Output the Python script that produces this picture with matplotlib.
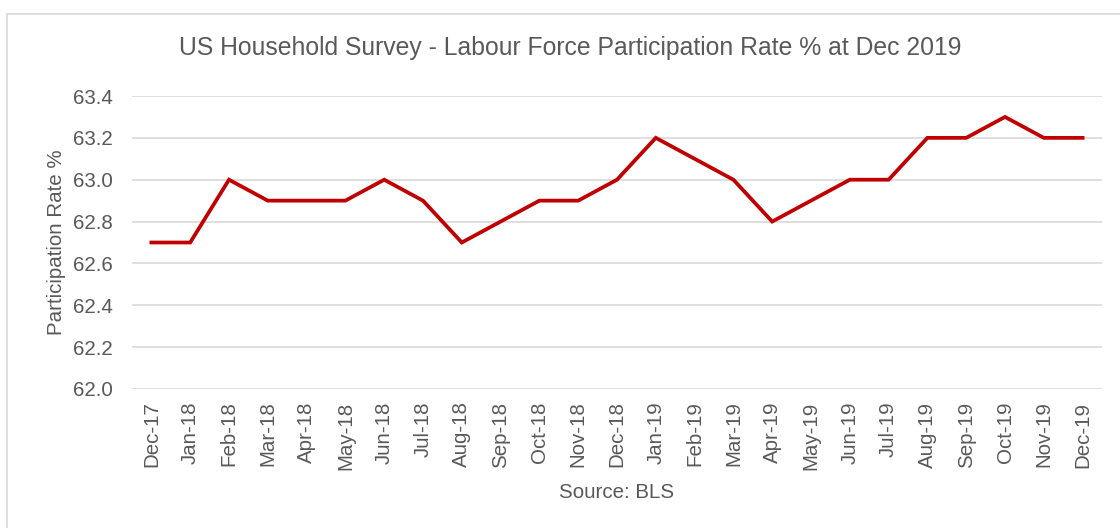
import matplotlib.pyplot as plt
from matplotlib.patches import Rectangle

months = ['Dec-17', 'Jan-18', 'Feb-18', 'Mar-18', 'Apr-18', 'May-18', 'Jun-18',
          'Jul-18', 'Aug-18', 'Sep-18', 'Oct-18', 'Nov-18', 'Dec-18', 'Jan-19',
          'Feb-19', 'Mar-19', 'Apr-19', 'May-19', 'Jun-19', 'Jul-19', 'Aug-19',
          'Sep-19', 'Oct-19', 'Nov-19', 'Dec-19']
participation = [62.7, 62.7, 63.0, 62.9, 62.9, 62.9, 63.0,
                 62.9, 62.7, 62.8, 62.9, 62.9, 63.0, 63.2,
                 63.1, 63.0, 62.8, 62.9, 63.0, 63.0, 63.2,
                 63.2, 63.3, 63.2, 63.2]
y_ticks = [62.0, 62.2, 62.4, 62.6, 62.8, 63.0, 63.2, 63.4]

plt.rcParams['font.family'] = ['Liberation Sans', 'DejaVu Sans']
text_color = '#595959'

fig = plt.figure(figsize=(11.2, 5.28), dpi=100)
# chart frame, running off the right and bottom edges
fig.patches.append(Rectangle((7 / 1120, -0.05), 1.2, 1 - 14 / 528 + 0.05,
                             transform=fig.transFigure, fill=False,
                             edgecolor='#d9d9d9', linewidth=1.2))

ax = fig.add_axes([132 / 1120, 139 / 528, 970 / 1120, 293 / 528])
x = list(range(len(months)))
ax.plot(x, participation, color='#c00000', linewidth=2.7, solid_joinstyle='miter')

ax.set_xlim(-0.5, len(months) - 0.5)
ax.set_ylim(62.0, 63.4)
ax.set_yticks(y_ticks)
ax.set_yticklabels([f'{v:.1f}' for v in y_ticks])
ax.set_xticks(x)
ax.set_xticklabels(months, rotation=90)
ax.tick_params(axis='both', length=0, labelsize=14.8, colors=text_color)
ax.tick_params(axis='y', pad=14)
ax.tick_params(axis='x', pad=9)
ax.grid(axis='y', color='#d9d9d9', linewidth=1.2)
ax.set_axisbelow(True)
for side in ax.spines.values():
    side.set_visible(False)

ax.set_ylabel('Participation Rate %', fontsize=14.8, color=text_color, labelpad=5)
fig.text(570 / 1120, 1 - 48 / 528, 'US Household Survey - Labour Force Participation Rate % at Dec 2019',
         ha='center', va='center', fontsize=17.8, color=text_color)
fig.text(617 / 1120, 1 - 492 / 528, 'Source: BLS', ha='center', va='center',
         fontsize=14.8, color=text_color)

fig.savefig('out.png', dpi=100)
